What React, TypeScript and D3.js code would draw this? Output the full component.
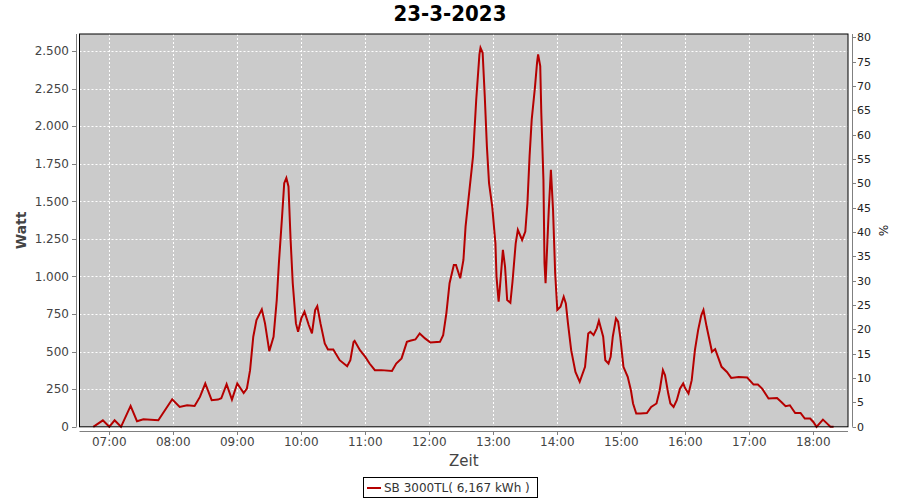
import React from "react";
import * as d3 from "d3";

const title = "23-3-2023";
const times = [
  "06:45","06:54","07:00","07:05","07:11","07:20","07:26","07:32","07:46","07:59",
  "08:06","08:13","08:20","08:25","08:30","08:36","08:42","08:45","08:50","08:55",
  "09:00","09:06","09:09","09:12","09:15","09:18","09:23","09:26","09:30","09:34",
  "09:37","09:39","09:42","09:44","09:46","09:48","09:50","09:52","09:55","09:57",
  "10:00","10:03","10:07","10:10","10:13","10:15","10:18","10:22","10:25","10:30",
  "10:36","10:43","10:46","10:49","10:50","10:55","11:00","11:04","11:09","11:15",
  "11:25","11:29","11:34","11:39","11:42","11:47","11:51","11:56","12:01","12:10",
  "12:13","12:16","12:19","12:23","12:25","12:29","12:32","12:34","12:38","12:41",
  "12:44","12:47","12:48","12:50","12:52","12:54","12:56","12:59","13:02","13:03",
  "13:05","13:06","13:09","13:11","13:13","13:16","13:18","13:21","13:23","13:27",
  "13:30","13:32","13:34","13:36","13:39","13:41","13:42","13:44","13:45","13:47",
  "13:48","13:49","13:52","13:54","13:56","13:58","14:00","14:03","14:06","14:08",
  "14:10","14:13","14:17","14:21","14:26","14:29","14:31","14:34","14:37","14:39",
  "14:43","14:45","14:48","14:50","14:52","14:55","14:57","14:59","15:02","15:06",
  "15:09","15:11","15:14","15:18","15:24","15:28","15:33","15:36","15:39","15:41",
  "15:44","15:46","15:49","15:52","15:55","15:58","16:00","16:03","16:06","16:09",
  "16:12","16:15","16:17","16:20","16:22","16:25","16:28","16:34","16:39","16:43",
  "16:50","16:58","17:04","17:08","17:12","17:18","17:26","17:30","17:34","17:38",
  "17:43","17:48","17:52","17:57","18:00","18:03","18:09","18:13","18:16","18:19"
];
const watts = [
  0,43,0,43,0,139,37,50,43,183,
  132,143,139,199,288,177,181,190,283,181,
  288,225,254,377,599,710,781,688,503,599,
  843,1088,1399,1621,1655,1599,1243,955,688,632,
  721,765,677,621,777,803,688,555,515,515,
  443,403,443,565,572,510,465,421,377,377,
  372,421,455,565,572,581,621,588,561,565,
  610,755,955,1077,1077,988,1110,1332,1599,1799,
  2177,2477,2521,2488,2199,1865,1621,1465,1221,999,
  832,910,1177,1065,843,825,965,1221,1310,1243,
  1299,1488,1799,2043,2255,2421,2477,2399,2088,1643,
  1088,955,1443,1710,1443,1021,777,799,865,821,
  688,510,365,299,399,621,632,610,655,705,
  599,443,421,465,599,721,699,599,399,332,
  243,155,88,88,92,132,155,243,377,343,
  221,155,132,177,254,288,254,221,310,510,
  643,743,777,665,599,499,517,399,365,325,
  332,328,281,281,254,188,192,165,137,143,
  92,92,55,55,32,0,48,21,0,0
];
const leftTicks = [0,250,500,750,1000,1250,1500,1750,2000,2250,2500];
const rightTicks = [0,5,10,15,20,25,30,35,40,45,50,55,60,65,70,75,80];
const hourTicks = ["07:00","08:00","09:00","10:00","11:00","12:00","13:00","14:00","15:00","16:00","17:00","18:00"];
const seriesName = "SB 3000TL( 6,167 kWh )";
const yLabel = "Watt";
const y2Label = "%";
const xLabel = "Zeit";

const parse = (s: string) => {
  const [h, m] = s.split(":").map(Number);
  return new Date(2023, 2, 23, h, m);
};

export default function App() {
  const W = 900, H = 500;
  const pl = 79.5, pr = 848, pt = 34, pb = 426.8;
  const x = d3.scaleTime()
    .domain([new Date(2023, 2, 23, 6, 32, 6), new Date(2023, 2, 23, 18, 32, 30)])
    .range([pl, pr]);
  const y = d3.scaleLinear().domain([0, 2613]).range([pb, pt]);
  const y2 = d3.scaleLinear().domain([0, 80.7]).range([pb, pt]);
  const data = times.map((t, i) => ({ t: parse(t), v: watts[i] }));
  const line = d3.line<{ t: Date; v: number }>().x(d => x(d.t)).y(d => y(d.v));
  const fmt = d3.format(",");
  const fmtDe = (v: number) => fmt(v).replace(/,/g, ".");
  const font = "'DejaVu Sans', Verdana, sans-serif";
  const red = "#b50000";
  const axisGray = "#808080";
  return (
    <svg width={W} height={H} style={{ position: "absolute", left: 0, top: 0, background: "#fff" }} fontFamily={font}>
      <rect x={0} y={0} width={W} height={H} fill="#fff" />
      <text x={450} y={21} textAnchor="middle" fontSize={22} fontWeight="bold" fontFamily="'DejaVu Sans Condensed', 'DejaVu Sans', sans-serif" fontStretch="condensed" fill="#000">{title}</text>
      <rect x={pl} y={pt} width={pr - pl} height={pb - pt} fill="#cbcbcb" />
      {hourTicks.map(h => (
        <line key={"gx" + h} x1={Math.round(x(parse(h))) + 0.5} x2={Math.round(x(parse(h))) + 0.5} y1={pt} y2={pb} stroke="#fff" strokeWidth={1} strokeDasharray="2,2" />
      ))}
      {leftTicks.map(v => (
        <line key={"gy" + v} x1={pl} x2={pr} y1={Math.round(y(v)) + 0.5} y2={Math.round(y(v)) + 0.5} stroke="#fff" strokeWidth={1} strokeDasharray="2,2" />
      ))}
      <path d={line(data) || ""} fill="none" stroke={red} strokeWidth={2} strokeLinejoin="miter" />
      <rect x={pl} y={pt} width={pr - pl} height={pb - pt} fill="none" stroke="#000" strokeWidth={1} />
      {/* left axis */}
      <line x1={76.5} x2={76.5} y1={pt} y2={pb} stroke={axisGray} />
      {leftTicks.map(v => (
        <g key={"ly" + v}>
          <line x1={72} x2={76.5} y1={Math.round(y(v)) + 0.5} y2={Math.round(y(v)) + 0.5} stroke={axisGray} />
          <text x={69} y={y(v)} dy="0.35em" textAnchor="end" fontSize={12} fill="#444">{fmtDe(v)}</text>
        </g>
      ))}
      <text transform={`translate(26,${(pt + pb) / 2}) rotate(-90)`} textAnchor="middle" fontSize={14} fontWeight="bold" fill="#444">{yLabel}</text>
      {/* right axis */}
      <line x1={852.5} x2={852.5} y1={pt} y2={pb} stroke={axisGray} />
      {rightTicks.map(v => (
        <g key={"ry" + v}>
          <line x1={852.5} x2={856} y1={Math.round(y2(v)) + 0.5} y2={Math.round(y2(v)) + 0.5} stroke={axisGray} />
          <text x={857} y={y2(v)} dy="0.35em" textAnchor="start" fontSize={11} fill="#222">{v}</text>
        </g>
      ))}
      <text transform={`translate(879,${(pt + pb) / 2}) rotate(90)`} textAnchor="middle" fontSize={12} fill="#222">{y2Label}</text>
      {/* bottom axis */}
      <line x1={pl} x2={pr} y1={431.5} y2={431.5} stroke={axisGray} />
      {hourTicks.map(h => (
        <g key={"bx" + h}>
          <line x1={Math.round(x(parse(h))) + 0.5} x2={Math.round(x(parse(h))) + 0.5} y1={431.5} y2={435} stroke={axisGray} />
          <text x={x(parse(h))} y={446} textAnchor="middle" fontSize={12} fill="#444">{h}</text>
        </g>
      ))}
      <text x={(pl + pr) / 2} y={466} textAnchor="middle" fontSize={15} fill="#444">{xLabel}</text>
      {/* legend */}
      <rect x={363.5} y={477.5} width={174} height={20} fill="#fff" stroke="#000" />
      <line x1={367} x2={381} y1={488} y2={488} stroke={red} strokeWidth={2} />
      <text x={384} y={492} fontSize={12} fill="#333">{seriesName}</text>
    </svg>
  );
}
